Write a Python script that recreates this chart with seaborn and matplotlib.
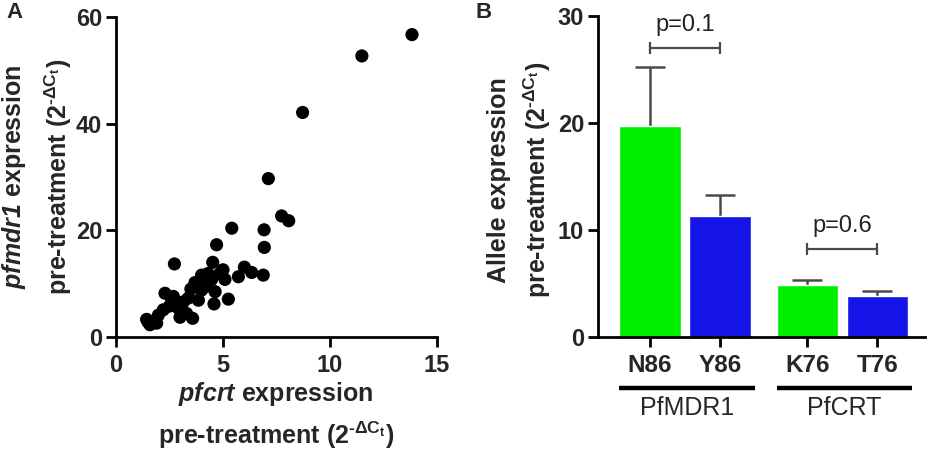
import matplotlib
matplotlib.use("Agg")
import matplotlib.pyplot as plt
import matplotlib.transforms as mtransforms
import numpy as np
import pandas as pd
import seaborn as sns

# panel A: pfcrt vs pfmdr1 expression (2^-dCt)
pfcrt = [13.83, 11.49, 8.72, 7.12, 7.74, 8.07, 5.41, 6.92, 6.93, 4.70,
         2.73, 4.52, 6.00, 5.72, 6.34, 6.88, 5.00, 5.09, 4.00, 3.69,
         4.16, 4.47, 4.63, 4.00, 5.25, 4.58, 3.85, 3.38, 3.15, 2.29,
         2.68, 2.91, 2.21, 1.98, 2.99, 3.58, 3.30, 1.43, 1.59, 1.90,
         2.60, 4.30, 3.50, 4.85, 3.10, 2.50, 1.50, 4.20]
pfmdr1 = [56.7, 52.7, 42.1, 29.7, 22.7, 21.8, 20.4, 20.1, 16.8, 17.3,
          13.7, 14.0, 13.1, 11.3, 12.1, 11.6, 12.6, 10.8, 11.6, 10.2,
          10.1, 10.8, 8.5, 8.8, 7.1, 6.2, 6.9, 7.3, 6.6, 8.2,
          7.6, 5.4, 5.1, 4.1, 3.7, 3.5, 4.4, 3.3, 2.3, 2.6,
          6.6, 11.9, 9.0, 11.9, 5.0, 5.8, 2.8, 9.5]

# panel B: allele expression, mean and upper error
alleles = ["N86", "Y86", "K76", "T76"]
genes = ["PfMDR1", "PfMDR1", "PfCRT", "PfCRT"]
allele_mean = [19.7, 11.3, 4.9, 3.8]
allele_err = [5.5, 2.0, 0.45, 0.5]
pvalues = ["p=0.1", "p=0.6"]

GREEN = "#00ee00"
BLUE = "#1515e8"
ERR = "#4a4a4a"

sns.set_style("ticks")
plt.rcParams["font.family"] = ["Liberation Sans", "DejaVu Sans"]
plt.rcParams["mathtext.fontset"] = "custom"
# digits inside \mathit fall back to rm, so make rm bold italic as well
plt.rcParams["mathtext.it"] = "Liberation Sans:italic:bold"
plt.rcParams["mathtext.rm"] = "Liberation Sans:italic:bold"
plt.rcParams["mathtext.bf"] = "Liberation Sans:bold"

fig = plt.figure(figsize=(9.34, 4.51), dpi=100)
W, H = 934.0, 451.0
axA = fig.add_axes([116 / W, 1 - 337 / H, 321 / W, 320 / H])
axB = fig.add_axes([598 / W, 1 - 337 / H, 327 / W, 321 / H])

for ax in (axA, axB):
    sns.despine(ax=ax)
    for side in ("left", "bottom"):
        ax.spines[side].set_linewidth(2.0)
        ax.spines[side].set_color("black")
    ax.tick_params(width=2.0, length=7, labelsize=17, pad=3, color="black")
    ax.tick_params(axis="x", pad=5)

# ---- panel A
sns.scatterplot(x=pfcrt, y=pfmdr1, ax=axA, color="black", s=90,
                edgecolor="none", clip_on=False, zorder=3)
axA.set_xlim(0, 15)
axA.set_ylim(0, 60)
axA.set_xticks([0, 5, 10, 15])
axA.set_yticks([0, 20, 40, 60])
for lab in axA.get_xticklabels() + axA.get_yticklabels():
    lab.set_fontweight("bold")

sup = r"$^{\mathregular{‐\Delta C_t}}$"
treat = "pre-treatment (2" + sup + ")"
fig.text(37 / W, 1 - 177 / H,
         r"$\mathit{pfmdr1}$ expression" + "\n" + treat,
         rotation=90, ha="center", va="center", fontsize=18,
         fontweight="bold", linespacing=1.6)
fig.text(276 / W, 1 - 394 / H, r"$\mathit{pfcrt}$ expression",
         ha="center", va="center", fontsize=18, fontweight="bold")
fig.text(276 / W, 1 - 435 / H, treat,
         ha="center", va="center", fontsize=18, fontweight="bold")

# ---- panel B
gene_order = list(dict.fromkeys(genes))
pos = []
for i, g in enumerate(genes):
    gi = gene_order.index(g)
    pos.append(gi * 2.25 + genes[:i].count(g))
df = pd.DataFrame({"allele": alleles, "gene": genes, "pos": pos,
                   "mean": allele_mean, "err": allele_err})
palette = {a: (GREEN if i % 2 == 0 else BLUE) for i, a in enumerate(alleles)}

sns.barplot(data=df, x="pos", y="mean", hue="allele", palette=palette,
            native_scale=True, width=0.88, errorbar=None, legend=False,
            saturation=1, ax=axB, zorder=2)
_, caps, _ = axB.errorbar(df["pos"], df["mean"],
                          yerr=[np.zeros(len(df)), df["err"]],
                          fmt="none", ecolor=ERR, elinewidth=1.8,
                          capsize=11, capthick=1.8, zorder=1)
# only the upper caps are drawn in the original
caps[0].set_visible(False)
axB.set_xlim(-0.743, 3.93)
axB.set_ylim(0, 30)
axB.set_yticks([0, 10, 20, 30])
axB.set_xticks(df["pos"])
axB.set_xticklabels(alleles, fontweight="bold", fontsize=17.5)
for lab in axB.get_yticklabels():
    lab.set_fontweight("bold")
axB.set_xlabel("")
axB.set_ylabel("")

fig.text(520 / W, 1 - 180 / H,
         "Allele expression\n" + treat,
         rotation=90, ha="center", va="center", fontsize=18,
         fontweight="bold", linespacing=1.4)

# gene group bars under the tick labels
trans = mtransforms.blended_transform_factory(axB.transData, axB.transAxes)
for g in gene_order:
    gp = df.loc[df["gene"] == g, "pos"]
    x0, x1 = gp.min() - 0.44, gp.max() + 0.5
    axB.plot([x0, x1], [-0.159, -0.159], color="black", lw=3.2,
             transform=trans, clip_on=False, solid_capstyle="butt")
    axB.text((x0 + x1) / 2, -0.222, g, transform=trans, ha="center",
             va="center", fontsize=18)

# p-value brackets
bracket_y = [27.0, 8.2]
for k, g in enumerate(gene_order):
    gp = df.loc[df["gene"] == g, "pos"].tolist()
    y = bracket_y[k]
    axB.plot(gp, [y, y], color=ERR, lw=1.6, marker="|", ms=8, mew=1.6,
             clip_on=False)
    axB.text(np.mean(gp), y + 1.1, pvalues[k], ha="center", va="bottom",
             fontsize=17, color="#222222")

fig.text(6 / W, 1 - 13 / H, "A", fontsize=16, fontweight="bold",
         ha="left", va="center")
fig.text(476 / W, 1 - 13 / H, "B", fontsize=16, fontweight="bold",
         ha="left", va="center")

fig.savefig("out.png", dpi=100)
